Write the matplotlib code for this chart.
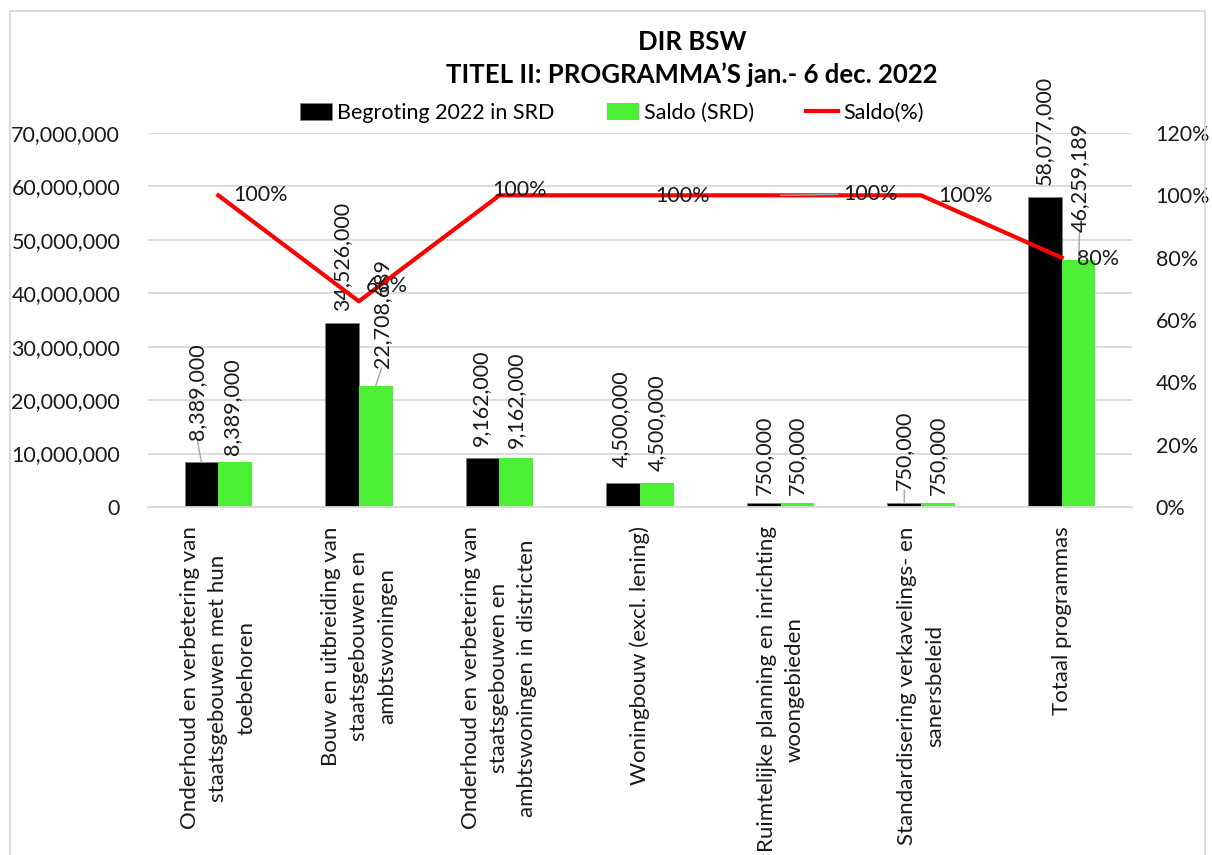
import numpy as np
import matplotlib
matplotlib.use("Agg")
import matplotlib.pyplot as plt
from matplotlib.ticker import FuncFormatter, MultipleLocator
from matplotlib.patches import Rectangle

plt.rcParams['font.family'] = ['Lato', 'DejaVu Sans']

categories = [
    "Onderhoud en verbetering van\nstaatsgebouwen met hun\ntoebehoren",
    "Bouw en uitbreiding van\nstaatsgebouwen en\nambtswoningen",
    "Onderhoud en verbetering van\nstaatsgebouwen en\nambtswoningen in districten",
    "Woningbouw (excl. lening)",
    "Ruimtelijke planning en inrichting\nwoongebieden",
    "Standardisering verkavelings- en\nsanersbeleid",
    "Totaal programmas",
]
begroting = [8389000, 34526000, 9162000, 4500000, 750000, 750000, 58077000]
saldo = [8389000, 22708689, 9162000, 4500000, 750000, 750000, 46259189]
saldo_pct = [100, 66, 100, 100, 100, 100, 80]

GREEN = '#4BEF33'
GRID = '#D9D9D9'
FS = 15.5

fig = plt.figure(figsize=(12.12, 8.55), dpi=100)
ax = fig.add_axes([148/1212, 1-507/855, (1132-148)/1212, (507-133)/855])
ax2 = ax.twinx()

x = np.arange(len(categories))
w = 0.24
b1 = ax.bar(x - w/2, begroting, w, color='black', edgecolor='#7f7f7f', linewidth=0.5,
            label='Begroting 2022 in SRD', zorder=2)
b2 = ax.bar(x + w/2, saldo, w, color=GREEN, label='Saldo (SRD)', zorder=2)
ln, = ax2.plot(x, saldo_pct, color='red', lw=3, label='Saldo(%)', zorder=3)

ax.set_xlim(-0.5, len(categories) - 0.5)
ax.set_ylim(0, 70000000)
ax2.set_ylim(0, 120)
ax.yaxis.set_major_locator(MultipleLocator(10000000))
ax2.yaxis.set_major_locator(MultipleLocator(20))
ax.yaxis.set_major_formatter(FuncFormatter(lambda v, p: f"{int(v):,}"))
ax2.yaxis.set_major_formatter(FuncFormatter(lambda v, p: f"{int(v)}%"))
ax.grid(axis='y', color=GRID, lw=1.3, zorder=0)
ax.set_axisbelow(True)
for a in (ax, ax2):
    for s in a.spines.values():
        s.set_visible(False)
    a.tick_params(length=0, labelsize=FS, colors='#1a1a1a')
ax.spines['bottom'].set_visible(True)
ax.spines['bottom'].set_color(GRID)
ax.spines['bottom'].set_linewidth(1.3)
ax.tick_params(axis='y', pad=20)
ax2.tick_params(axis='y', pad=17)
ax.set_xticks(x)
ax.set_xticklabels(categories, rotation=90, ha='center', va='top',
                   multialignment='center', fontsize=16, linespacing=1.5)
ax.tick_params(axis='x', pad=14)

# value labels: (dx, dy) in pixels, leader line flag
beg_off = [(-4, 22, True), (0, 12, False), (-2, 12, False), (-2, 16, False),
           (0, 8, False), (0, 13, True), (-1, 12, False)]
sal_off = [(-3, 7, False), (6, 18, True), (0, 10, False), (0, 12, False),
           (0, 8, False), (0, 8, False), (1, 28, True)]
for bars, vals, offs in ((b1, begroting, beg_off), (b2, saldo, sal_off)):
    for r, v, (dx, dy, lead) in zip(bars, vals, offs):
        xc = r.get_x() + r.get_width()/2
        ax.annotate(f"{v:,}", (xc, v), xytext=(dx, dy), textcoords='offset pixels',
                    rotation=90, ha='center', va='bottom', fontsize=FS, color='#1a1a1a',
                    zorder=5)
        if lead:
            ax.annotate("", (xc, v), xytext=(dx, dy), textcoords='offset pixels',
                        arrowprops=dict(arrowstyle='-', color='#a6a6a6', lw=1,
                                        shrinkA=0, shrinkB=0), zorder=4)

pct_off = [(15, 0), (7, 15), (-7, 5), (15, -1), (63, 1), (17, -1), (15, -1)]
for i, (p, (dx, dy)) in enumerate(zip(saldo_pct, pct_off)):
    ax2.annotate(f"{p}%", (x[i], p), xytext=(dx, dy), textcoords='offset pixels',
                 ha='left', va='center', fontsize=FS, color='#1a1a1a', zorder=5)
ax2.annotate("", (x[4], saldo_pct[4]), xytext=(57, 1), textcoords='offset pixels',
             arrowprops=dict(arrowstyle='-', color='#a6a6a6', lw=1, shrinkA=0, shrinkB=0))

fig.text(692/1212, 1-42/855, "DIR BSW", ha='center', va='center',
         fontsize=18.5, fontweight='bold')
fig.text(692/1212, 1-75/855, "TITEL II: PROGRAMMA\u2019S jan.- 6 dec. 2022", ha='center',
         va='center', fontsize=18.5, fontweight='bold')
fig.legend(handles=[b1, b2, ln], loc='center', bbox_to_anchor=(612/1212, 1-113/855),
           ncol=3, frameon=False, fontsize=FS, handlelength=1.5, handleheight=0.8,
           handletextpad=0.25, columnspacing=2.4)

fig.patches.append(Rectangle((10/1212, -0.02), (1205-10)/1212, 1-11/855+0.02,
                             transform=fig.transFigure, fill=False,
                             edgecolor=GRID, lw=1.3))

fig.savefig("out.png", dpi=100)
